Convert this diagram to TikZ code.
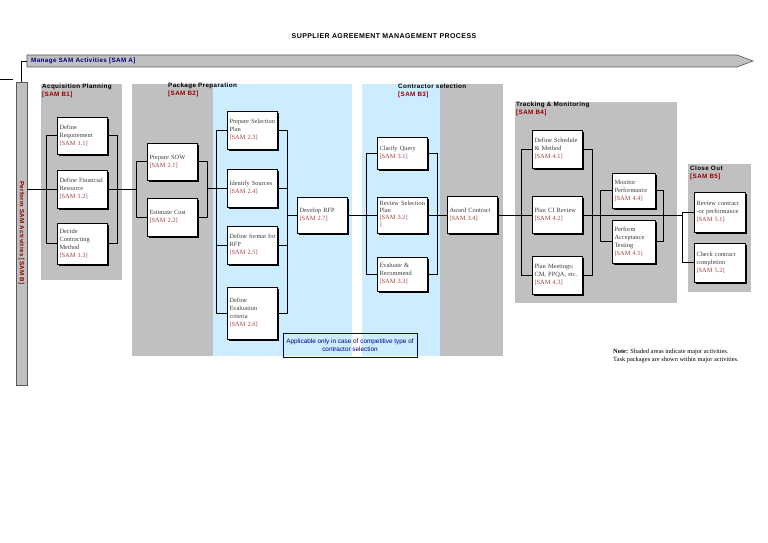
\documentclass[tikz,border=0pt]{standalone}
\usepackage{fontspec}
\setmainfont{Liberation Serif}
\setsansfont{Liberation Sans}
\newfontfamily\spacedsans[LetterSpace=6]{Liberation Sans}
\usetikzlibrary{shadows}

\definecolor{areagray}{RGB}{192,192,192}
\definecolor{paleblue}{RGB}{204,236,255}
\definecolor{samred}{RGB}{168,64,64}
\definecolor{titlered}{RGB}{150,0,0}
\definecolor{navyblue}{RGB}{0,0,128}
\definecolor{boxtext}{RGB}{60,60,60}

\newcommand{\samcode}[1]{\textcolor{samred}{[SAM #1]}}
\newcommand{\tasklines}[1]{\begin{tabular}{@{}l@{}}#1\end{tabular}}

\begin{document}
\begin{tikzpicture}[x=1pt, y=-1pt,
    task/.style={draw, fill=white, line width=0.5pt, text width=45pt,
      inner xsep=2.5pt, inner ysep=1pt, align=left, text=boxtext,
      font=\fontsize{6.4}{8}\selectfont,
      drop shadow={shadow xshift=1.8pt, shadow yshift=-1.8pt, fill=black, opacity=1}},
    narrow/.style={task, text width=38pt},
    wide/.style={task, text width=46pt},
    major/.style={anchor=north west, align=left, inner sep=0pt,
      font=\spacedsans\bfseries\fontsize{6.3}{7.6}\selectfont},
    link/.style={line width=0.7pt}
  ]
  \useasboundingbox (0,0) rectangle (768,543);

  % shaded areas
  \fill[areagray] (41,84) rectangle (122,280);
  \fill[areagray] (132,84) rectangle (213,356);
  \fill[paleblue] (213,84) rectangle (352,356);
  \fill[paleblue] (362,84) rectangle (440,356);
  \fill[areagray] (440,84) rectangle (503,356);
  \fill[areagray] (515,102) rectangle (677,303);
  \fill[areagray] (688,164) rectangle (751,292);

  \node[font=\spacedsans\bfseries\fontsize{7}{8}\selectfont] (title) at (384,36)
    {SUPPLIER AGREEMENT MANAGEMENT PROCESS};

  % manage / perform
  \filldraw[fill=areagray, draw=gray!70!black, line width=0.6pt]
    (27,55) -- (737,55) -- (753,61) -- (737,67) -- (27,67) -- cycle;
  \node[anchor=west, inner sep=0pt, text=navyblue,
    font=\spacedsans\bfseries\fontsize{6.3}{7}\selectfont] (manage) at (31,61)
    {Manage SAM Activities [SAM A]};
  \coordinate (mleft) at (27,61);
  \node[draw=gray!70!black, fill=areagray, line width=0.6pt, minimum width=11pt,
    minimum height=303pt, inner sep=0pt] (perform) at (21.5,233.5) {};
  \node[rotate=-90, text=titlered,
    font=\spacedsans\bfseries\fontsize{6.2}{7}\selectfont] (performtext) at (21.5,233)
    {Perform SAM Activities [SAM B]};
  \draw[link] (mleft) -| (perform.north);
  \draw[link] (0,79) -- (13,79);

  % major activities
  \node[major] (b1) at (42,84) {Acquisition Planning\\\textcolor{titlered}{[SAM B1]}};
  \node[major] (b2) at (168,83) {Package Preparation\\\textcolor{titlered}{[SAM B2]}};
  \node[major] (b3) at (398,84) {Contractor selection\\\textcolor{titlered}{[SAM B3]}};
  \node[major] (b4) at (516,102) {Tracking \& Monitoring\\\textcolor{titlered}{[SAM B4]}};
  \node[major] (b5) at (690,166) {Close Out\\\textcolor{titlered}{[SAM B5]}};

  % task packages
  \node[task, minimum height=37pt] (r11) at (82,135.5) {\tasklines{Define\\Requirement\\\samcode{1.1}}};
  \node[task, minimum height=38pt] (r12) at (82,189) {\tasklines{Define Financial\\Resource\\\samcode{1.2}}};
  \node[task, minimum height=41pt] (r13) at (82,243.5) {\tasklines{Decide\\Contracting\\Method\\\samcode{1.3}}};
  \node[task, minimum height=37pt] (r21) at (172,161.5) {\tasklines{Prepare SOW\\\samcode{2.1}}};
  \node[task, minimum height=38pt] (r22) at (172,217) {\tasklines{Estimate Cost\\\samcode{2.2}}};
  \node[task, minimum height=38pt] (r23) at (252,130) {\tasklines{Prepare Selection\\Plan\\\samcode{2.3}}};
  \node[task, minimum height=38pt] (r24) at (252,188) {\tasklines{Identify Sources\\\samcode{2.4}}};
  \node[task, minimum height=38pt] (r25) at (252,245) {\tasklines{Define format for\\RFP\\\samcode{2.5}}};
  \node[task, minimum height=52pt] (r26) at (252,313) {\tasklines{Define\\Evaluation\\criteria\\\samcode{2.6}}};
  \node[task, minimum height=36pt] (r27) at (322,215) {\tasklines{Develop RFP\\\samcode{2.7}}};
  \node[task, minimum height=32pt] (r31) at (402,153) {\tasklines{Clarify Query\\\samcode{3.1}}};
  \node[task, minimum height=36pt, font=\fontsize{6.4}{7}\selectfont] (r32) at (402,215)
    {\tasklines{Review Selection\\Plan\\\samcode{3.2}\\\textcolor{samred}{]}}};
  \node[task, minimum height=34pt] (r33) at (402,274) {\tasklines{Evaluate \&\\Recommend\\\samcode{3.3}}};
  \node[task, minimum height=37pt] (r34) at (472,215) {\tasklines{Award Contract\\\samcode{3.4}}};
  \node[task, minimum height=38pt] (r41) at (557,149) {\tasklines{Define Schedule\\\& Method\\\samcode{4.1}}};
  \node[task, minimum height=37pt] (r42) at (557,215) {\tasklines{Plan CI Review\\\samcode{4.2}}};
  \node[task, minimum height=38pt] (r43) at (557,275) {\tasklines{Plan Meetings:\\CM, PPQA, etc.\\\samcode{4.3}}};
  \node[narrow, minimum height=35pt] (r44) at (633.5,190.5) {\tasklines{Monitor\\Performance\\\samcode{4.4}}};
  \node[narrow, minimum height=43pt] (r45) at (633.5,241.5) {\tasklines{Perform\\Acceptance\\Testing\\\samcode{4.5}}};
  \node[wide, minimum height=40pt] (r51) at (719.5,212) {\tasklines{Review contract\\-or performance\\\samcode{5.1}}};
  \node[wide, minimum height=39pt] (r52) at (719.5,262.5) {\tasklines{Check contract\\completion\\\samcode{5.2}}};

  % connectors
  \draw[link] (perform.east |- r12.west) -- (r12.west);
  \draw[link] (r11.west) -- ++(-10,0) |- (r13.west);
  \draw[link] (r11.east) -- ++(10,0) |- (r13.east);
  \draw[link] (r12.east) -- ++(30,0);
  \draw[link] (r21.west) -- ++(-10,0) |- (r22.west);
  \draw[link] (r21.east) -- ++(10,0) |- (r22.east);
  \draw[link] (r24.west) -- ++(-20,0);
  \draw[link] (r23.west) -- ++(-10,0) |- (r26.west);
  \draw[link] (r25.west) -- ++(-10,0);
  \draw[link] (r23.east) -- ++(10,0) |- (r26.east);
  \draw[link] (r24.east) -- ++(10,0);
  \draw[link] (r25.east) -- ++(10,0);
  \draw[link] (r27.west) -- ++(-10,0);
  \draw[link] (r27.east) -- (r32.west);
  \draw[link] (r31.west) -- ++(-10,0) |- (r33.west);
  \draw[link] (r31.east) -- ++(10,0) |- (r33.east);
  \draw[link] (r32.east) -- (r34.west);
  \draw[link] (r34.east) -- (r42.west);
  \draw[link] (r41.west) -- ++(-10,0) |- (r43.west);
  \draw[link] (r41.east) -- ++(10,0) |- (r43.east);
  \draw[link] (r44.west) -- ++(-11,0) |- (r45.west);
  \draw[link] (r44.east) -- ++(8,0) |- (r45.east);
  \draw[link] (r42.east) -- ([xshift=-11pt]r51.west |- r42.east);
  \draw[link] (r51.west) -- ++(-11,0) |- (r52.west);

  % notes
  \node[draw=navyblue, line width=0.6pt, minimum width=134pt, minimum height=24pt,
    align=center, text=navyblue, inner sep=1pt,
    font=\sffamily\fontsize{6.4}{7.5}\selectfont] (applic) at (350,345)
    {Applicable only in case of competitive type of\\contractor selection};
  \node[anchor=north west, align=left, inner sep=0pt,
    font=\fontsize{6.4}{8}\selectfont] (note) at (613,349)
    {\textbf{Note:} Shaded areas indicate major activities.\\Task packages are shown within major activities.};
\end{tikzpicture}
\end{document}
